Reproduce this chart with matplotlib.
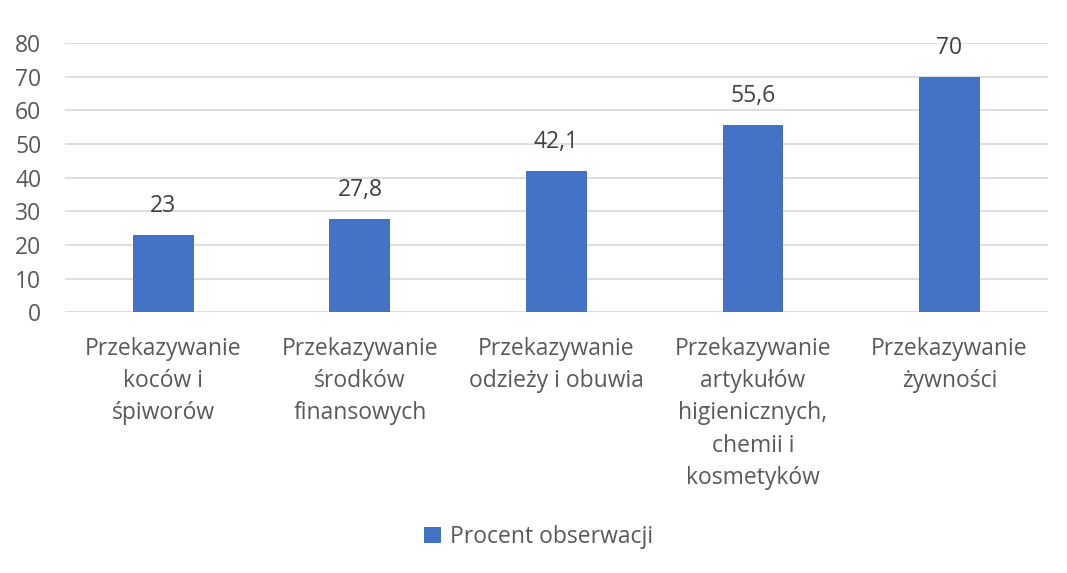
import matplotlib
matplotlib.use("Agg")
import matplotlib.pyplot as plt

categories = [
    "Przekazywanie\nkoców i\nśpiworów",
    "Przekazywanie\nśrodków\nfinansowych",
    "Przekazywanie\nodzieży i obuwia",
    "Przekazywanie\nartykułów\nhigienicznych,\nchemii i\nkosmetyków",
    "Przekazywanie\nżywności",
]
values = [23, 27.8, 42.1, 55.6, 70]
value_labels = ["23", "27,8", "42,1", "55,6", "70"]
series_name = "Procent obserwacji"
yticks = [0, 10, 20, 30, 40, 50, 60, 70, 80]

plt.rcParams['font.family'] = ['Open Sans', 'DejaVu Sans']

fig = plt.figure(figsize=(10.67, 5.73), dpi=100)
ax = fig.add_axes([0.061, 0.455, 0.921, 0.47])

x = range(len(categories))
bars = ax.bar(x, values, width=0.31, color="#4472C4", label=series_name, zorder=3)

# value labels above bars
for xi, v, lab in zip(x, values, value_labels):
    ax.text(xi, v + 5, lab, ha="center", va="bottom", fontsize=16.5, color="#404040")

ax.set_ylim(0, 80)
ax.set_xlim(-0.5, len(categories) - 0.5)
ax.set_yticks(yticks)
ax.set_xticks(list(x))
ax.set_xticklabels(categories, fontsize=16.5, color="#595959", linespacing=1.45)
ax.tick_params(axis="y", labelsize=16.5, labelcolor="#595959", length=0, pad=17)
ax.tick_params(axis="x", length=0, pad=18)
ax.yaxis.grid(True, color="#D9D9D9", linewidth=1.2, zorder=0)
for s in ax.spines.values():
    s.set_visible(False)

leg = fig.legend(handles=[bars], labels=[series_name], loc="center",
                 bbox_to_anchor=(0.505, 0.063), frameon=False, fontsize=16.5,
                 handlelength=0.75, handleheight=0.75, handletextpad=0.4)
for t in leg.get_texts():
    t.set_color("#595959")

fig.savefig("out.png", dpi=100)
